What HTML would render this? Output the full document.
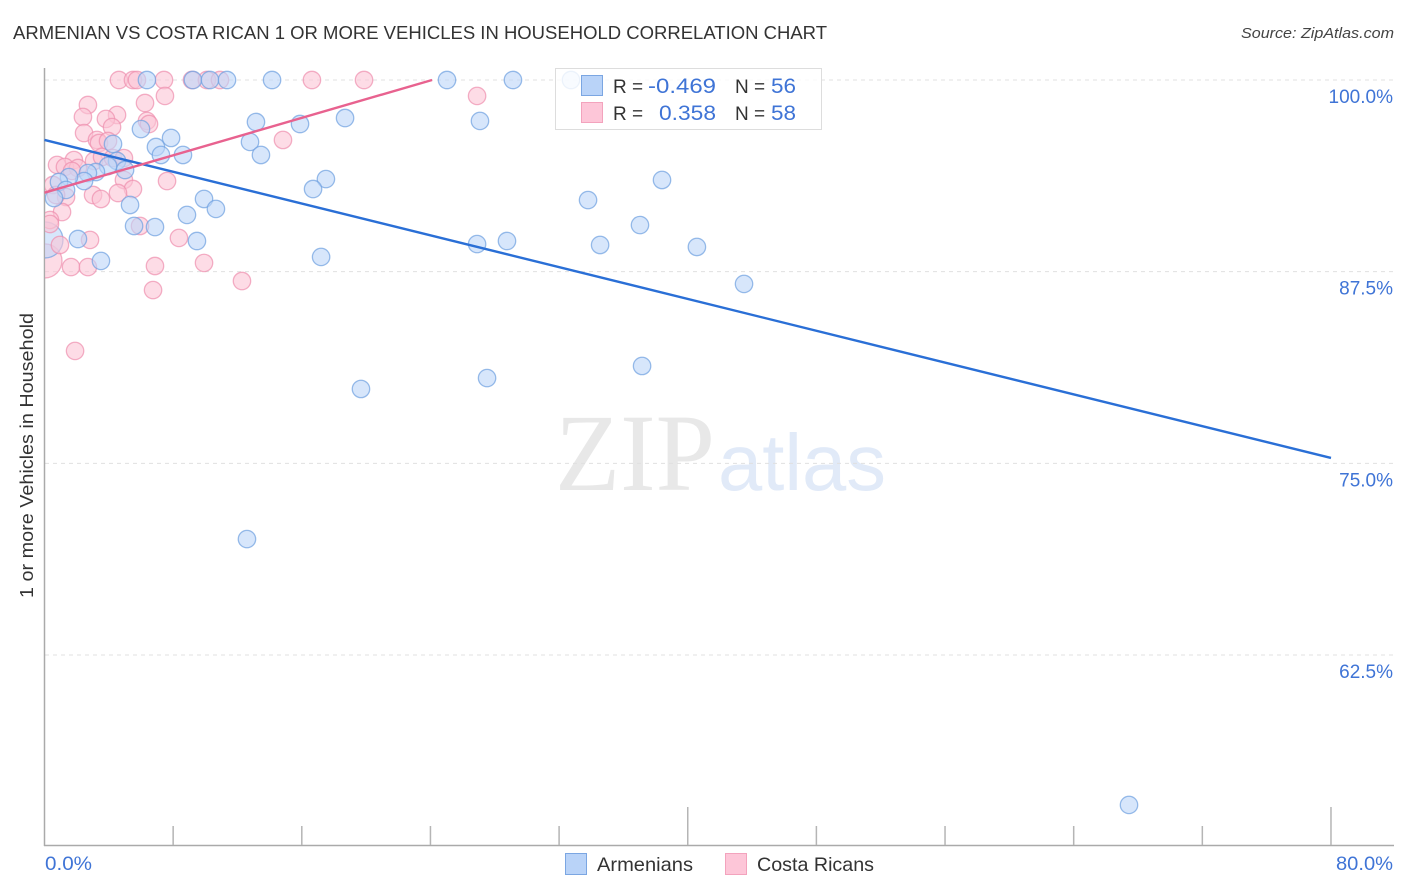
<!DOCTYPE html>
<html>
<head>
<meta charset="utf-8">
<title>Armenian vs Costa Rican correlation chart</title>
<style>
html,body{margin:0;padding:0;background:#fff;width:1406px;height:892px;overflow:hidden}
svg{display:block}
text{font-family:"Liberation Sans",sans-serif}
</style>
</head>
<body>
<svg id="chart" xmlns="http://www.w3.org/2000/svg" width="1406" height="892" viewBox="0 0 1406 892">
  <defs><clipPath id="plot-clip"><rect x="45" y="60" width="1350" height="785"/></clipPath></defs>
  <text x="13" y="39" font-size="18.5" fill="#333" textLength="814" lengthAdjust="spacingAndGlyphs">ARMENIAN VS COSTA RICAN 1 OR MORE VEHICLES IN HOUSEHOLD CORRELATION CHART</text>
  <text x="1241" y="38" font-size="15" font-style="italic" fill="#444" textLength="153" lengthAdjust="spacingAndGlyphs">Source: ZipAtlas.com</text>
  <g id="watermark">
    <text x="555" y="490" font-size="110" fill="#e8e8e8" style="font-family:'Liberation Serif',serif" textLength="160" lengthAdjust="spacingAndGlyphs">ZIP</text>
    <text x="718" y="490" font-size="80" fill="#e1eaf8" style="font-family:'Liberation Sans',sans-serif" textLength="168" lengthAdjust="spacingAndGlyphs">atlas</text>
  </g>
  <g id="grid"></g>
  <g id="axes"></g>
  <g id="points" clip-path="url(#plot-clip)"></g>
  <g id="trends"></g>
  <text transform="translate(33,598) rotate(-90)" font-size="18.5" fill="#333" textLength="285" lengthAdjust="spacingAndGlyphs">1 or more Vehicles in Household</text>
  <g>
    <rect x="555.5" y="68.5" width="266" height="61" fill="#fff" fill-opacity="0.82" stroke="#ddd" stroke-width="1"/>
    <rect x="581.5" y="75.5" width="21" height="20" fill="#b9d3f8" stroke="#7ba6e2"/>
    <rect x="581.5" y="102.5" width="21" height="20" fill="#fdc6d8" stroke="#f3a3bd"/>
    <text x="613" y="93" font-size="19" fill="#333">R =</text>
    <text x="648" y="93" font-size="21" fill="#3f74d6" textLength="68" lengthAdjust="spacingAndGlyphs">-0.469</text>
    <text x="735" y="93" font-size="19" fill="#333">N =</text>
    <text x="771" y="93" font-size="21" fill="#3f74d6" textLength="25" lengthAdjust="spacingAndGlyphs">56</text>
    <text x="613" y="120" font-size="19" fill="#333">R =</text>
    <text x="659" y="120" font-size="21" fill="#3f74d6" textLength="57" lengthAdjust="spacingAndGlyphs">0.358</text>
    <text x="735" y="120" font-size="19" fill="#333">N =</text>
    <text x="771" y="120" font-size="21" fill="#3f74d6" textLength="25" lengthAdjust="spacingAndGlyphs">58</text>
  </g>
  <g>
    <rect x="565.5" y="853.5" width="21" height="21" fill="#b9d3f8" stroke="#7ba6e2"/>
    <text x="597" y="871" font-size="19.5" fill="#333" textLength="96" lengthAdjust="spacingAndGlyphs">Armenians</text>
    <rect x="725.5" y="853.5" width="21" height="21" fill="#fdc6d8" stroke="#f3a3bd"/>
    <text x="757" y="871" font-size="19.5" fill="#333" textLength="117" lengthAdjust="spacingAndGlyphs">Costa Ricans</text>
  </g>
</svg>
<script>
const yTicks = [100, 87.5, 75, 62.5];
const yTickLabels = ["100.0%", "87.5%", "75.0%", "62.5%"];
const xTicks = [8, 16, 24, 32, 40, 48, 56, 64, 72, 80];
const xMajorTicks = [40, 80];
const xEndLabels = ["0.0%", "80.0%"];

const armenianX = [6.37,9.23,10.29,11.35,14.15,25.03,29.13,32.74,6.0,7.87,6.93,7.24,8.61,13.15,12.78,13.46,15.89,18.69,27.08,17.5,16.7,4.26,4.51,5.01,3.95,3.2,2.7,2.46,1.52,0.9,1.34,0.59,5.32,5.57,6.87,8.86,9.92,10.66,9.48,2.08,3.51,17.2,19.68,26.9,28.76,33.8,34.55,37.03,38.4,40.57,43.5,27.52,37.16,12.59,67.44];
const armenianY = [100,100,100,100,100,100,100,100,96.8,96.22,95.63,95.11,95.11,97.26,95.96,95.11,97.13,97.52,97.33,93.54,92.89,95.83,94.72,94.13,94.39,94.0,93.93,93.41,93.67,93.35,92.83,92.3,91.85,90.48,90.41,91.2,92.24,91.59,89.5,89.63,88.2,88.46,79.85,89.3,89.5,92.17,89.24,90.54,93.48,89.11,86.7,80.56,81.35,70.06,52.72];
const armenianLargeX = [0.03];
const armenianLargeY = [89.57];

const costaRicanX = [4.63,5.5,5.75,7.43,9.17,10.1,10.91,16.63,19.87,7.49,6.25,2.7,2.39,4.51,3.82,4.2,2.46,6.37,6.5,3.26,3.39,3.95,0.78,1.83,1.27,2.08,1.71,3.08,3.58,4.26,4.94,5.5,4.57,3.02,3.51,7.62,1.34,1.09,0.34,0.34,5.94,8.36,2.83,0.96,9.92,6.87,1.65,2.7,6.75,12.28,1.9,14.83,26.9,0.53,0.72,4.94];
const costaRicanY = [100,100,100,100,100,100,100,100,100,98.96,98.5,98.37,97.59,97.72,97.46,96.93,96.54,97.33,97.13,96.09,95.89,96.02,94.46,94.78,94.33,94.26,94.07,94.72,94.98,94.91,93.48,92.89,92.63,92.5,92.24,93.41,92.37,91.39,90.87,90.61,90.48,89.7,89.57,89.24,88.07,87.87,87.8,87.8,86.3,86.89,82.33,96.09,98.96,93.15,92.5,94.91];
const costaRicanLargeX = [0.03];
const costaRicanLargeY = [88.2];

const armenianTrendX = [0, 80];
const armenianTrendY = [96.09, 75.35];
const costaRicanTrendX = [0, 24.1];
const costaRicanTrendY = [92.65, 100];

const NS = "http://www.w3.org/2000/svg";
function sx(v){ return 44.5 + v * 16.081; }
function sy(v){ return 80 + (100 - v) * 15.333; }
function make(tag, attrs, parent){
  const el = document.createElementNS(NS, tag);
  for (const k in attrs) el.setAttribute(k, attrs[k]);
  parent.appendChild(el);
  return el;
}
const grid = document.getElementById("grid");
const axes = document.getElementById("axes");
const points = document.getElementById("points");
const trends = document.getElementById("trends");

yTicks.forEach(function(t, i){
  const line = make("line", {x1:45, x2:1394, y1:sy(t), y2:sy(t), stroke:"#e0e0e0", "stroke-width":1, "stroke-dasharray":"4 4"}, grid);
  
  
  const label = make("text", {x:1393, y:sy(t) + 23, "font-size":19, fill:"#3f74d6", "text-anchor":"end"}, axes);
  
  
  label.textContent = yTickLabels[i];
});

const leftAxis = make("line", {x1:44.5, x2:44.5, y1:68, y2:846, stroke:"#aaa", "stroke-width":1.5}, axes);


const bottomAxis = make("line", {x1:44, x2:1394, y1:845.5, y2:845.5, stroke:"#aaa", "stroke-width":1.5}, axes);



xTicks.forEach(function(t){
  const top = xMajorTicks.indexOf(t) >= 0 ? 807 : 826;
  const tick = make("line", {x1:sx(t), x2:sx(t), y1:top, y2:845, stroke:"#b5b5b5", "stroke-width":1.5}, axes);
  
  
});

const xLabelLeft = make("text", {x:45, y:870, "font-size":19, fill:"#3f74d6", textLength:47, lengthAdjust:"spacingAndGlyphs"}, axes);


xLabelLeft.textContent = xEndLabels[0];
const xLabelRight = make("text", {x:1336, y:870, "font-size":19, fill:"#3f74d6", textLength:57, lengthAdjust:"spacingAndGlyphs"}, axes);


xLabelRight.textContent = xEndLabels[1];

function drawSeries(xs, ys, r, fill, stroke, name){
  xs.forEach(function(x, i){
    const c = make("circle", {cx:sx(x), cy:sy(ys[i]), r:r, fill:fill, "fill-opacity":0.6, stroke:stroke, "stroke-opacity":0.7, "stroke-width":1.3}, points);
    
    
  });
}
drawSeries(costaRicanLargeX, costaRicanLargeY, 17, "#fbc4d6", "#ee8fae", "costa-rican-point-large");
drawSeries(armenianLargeX, armenianLargeY, 18, "#bcd5f8", "#6d9fe0", "armenian-point-large");
drawSeries(costaRicanX, costaRicanY, 8.7, "#fbc4d6", "#ee8fae", "costa-rican-point");
drawSeries(armenianX, armenianY, 8.7, "#bcd5f8", "#6d9fe0", "armenian-point");

const blueTrend = make("line", {x1:sx(armenianTrendX[0]), y1:sy(armenianTrendY[0]), x2:sx(armenianTrendX[1]), y2:sy(armenianTrendY[1]), stroke:"#2a6fd6", "stroke-width":2.4}, trends);


const pinkTrend = make("line", {x1:sx(costaRicanTrendX[0]), y1:sy(costaRicanTrendY[0]), x2:sx(costaRicanTrendX[1]), y2:sy(costaRicanTrendY[1]), stroke:"#e8628f", "stroke-width":2.4}, trends);


</script>
</body>
</html>
